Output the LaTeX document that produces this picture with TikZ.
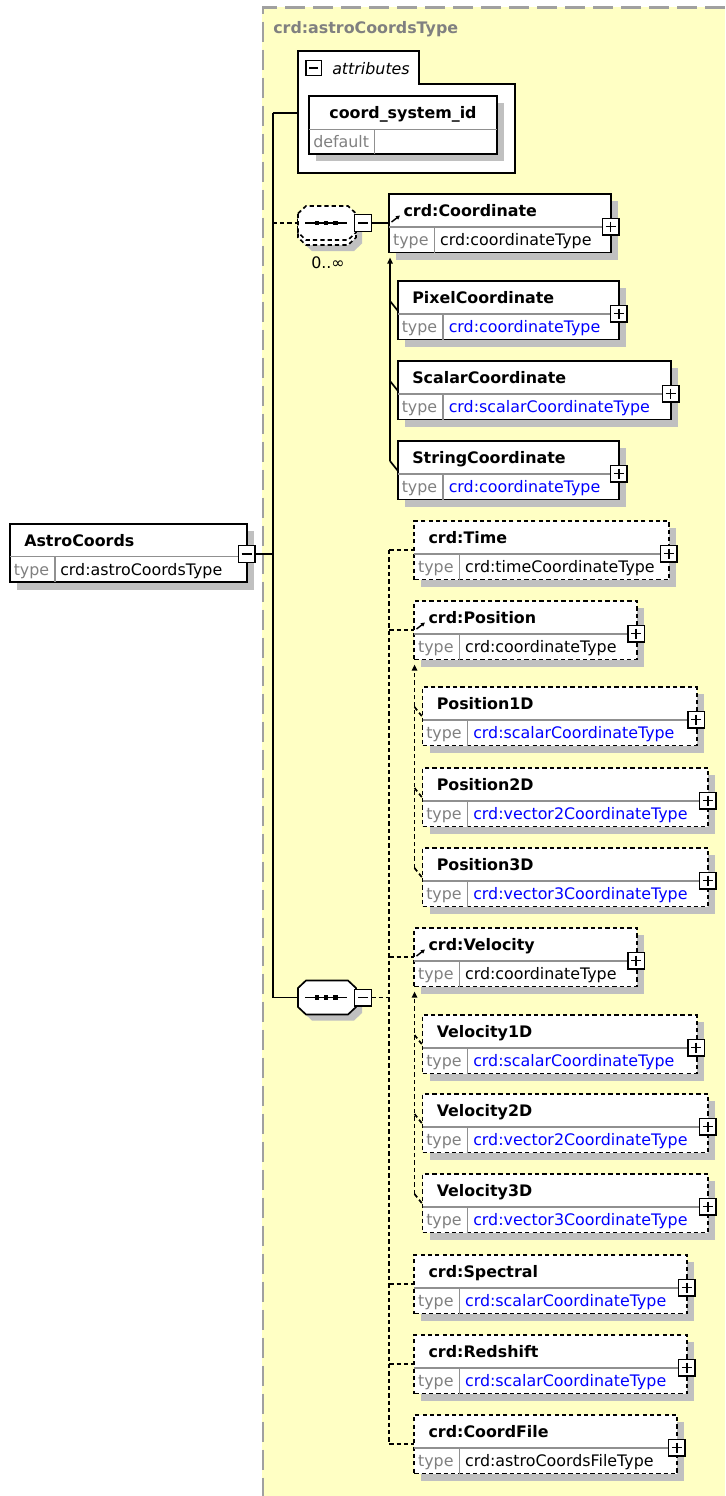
\documentclass[tikz,border=0pt]{standalone}
\usepackage{fontspec}
\setmainfont{DejaVu Sans}
\usetikzlibrary{arrows.meta}
\definecolor{bgyellow}{HTML}{FFFFC4}
\definecolor{shadowc}{HTML}{C0C0C0}
\definecolor{typegray}{HTML}{808080}
\definecolor{divgray}{HTML}{909090}
\definecolor{linkblue}{HTML}{0000FF}
\definecolor{framegray}{HTML}{A0A0A0}
\newcommand\xmlfs{\fontsize{11.9}{14.3}\selectfont}
\tikzset{
  ebox/.style={draw=black, line width=1.35pt, fill=white, inner sep=0pt, outer sep=0pt, rectangle},
  xdash/.style={dash pattern=on 3.2pt off 2.3pt},
  divline/.style={draw=divgray, line width=0.9pt},
  tb/.style={font=\xmlfs\bfseries, anchor=base west, inner sep=0pt},
  tt/.style={font=\xmlfs, anchor=base west, inner sep=0pt},
  pmbox/.style={draw=black, fill=white, line width=1.1pt, minimum size=12.4pt, inner sep=0pt, outer sep=0pt},
  pmline/.style={line width=1.1pt},
  conn/.style={line width=1.25pt},
  cdash/.style={line width=1.25pt, dash pattern=on 3.2pt off 2.3pt},
  subarr/.style={-{Triangle[length=4.5pt,width=4pt]}, shorten >=3.8pt},
  refarr/.style={line width=1.1pt, -{Triangle[length=3pt,width=3pt]}},
  octa/.style 2 args={insert path={({#1-29},{#2-9.5}) -- ({#1-21},{#2-17}) -- ({#1+21},{#2-17}) -- ({#1+29},{#2-9.5}) -- ({#1+29},{#2+9.5}) -- ({#1+21},{#2+17}) -- ({#1-21},{#2+17}) -- ({#1-29},{#2+9.5}) -- cycle}}
}
% element box: name, left, top, right, border style, title, type, type colour
\newcommand\xelem[8]{%
  \fill[shadowc] ({#2+7},{#3+7}) rectangle ({#4+7},{#3+65.5});
  \node[ebox,#5,minimum width={(#4-#2)*0.75pt},minimum height=43.875pt,anchor=north west] (#1) at (#2,#3) {};
  \draw[divline] (#2,{#3+33}) -- (#4,{#3+33});
  \draw[divline] ({#2+45},{#3+33}) -- ({#2+45},{#3+58.5});
  \node[tb] (#1-t) at ({#2+14},{#3+22.5}) {#6};
  \node[tt,text=typegray] (#1-k) at ({#2+3.5},{#3+51.5}) {type};
  \node[tt,text=#8] (#1-v) at ({#2+50.5},{#3+51.5}) {#7};
  \node[pmbox] (#1-p) at ({#4-0.5},{#3+32.5}) {};
  \draw[pmline] ({#4-5.5},{#3+32.5}) -- ({#4+4.5},{#3+32.5}) ({#4-0.5},{#3+27.5}) -- ({#4-0.5},{#3+37.5});
  \coordinate (#1-c) at (#2,{#3+29});
  \coordinate (#1-s) at (#2,{#3+30});
  \coordinate (#1-q) at ({#2-8},{#3+20});
}
% sequence compositor: name, cx, cy
\newcommand\xseqsym[3]{%
  \draw[line width=1.2pt] ({#2-22},#3) -- ({#2+20},#3);
  \fill ({#2-12.3},{#3-2.2}) rectangle ({#2-7.9},{#3+2.2});
  \fill ({#2-3.2},{#3-2.2}) rectangle ({#2+1.2},{#3+2.2});
  \fill ({#2+6.1},{#3-2.2}) rectangle ({#2+10.5},{#3+2.2});
  \node[inner sep=0pt,outer sep=0pt,minimum width=43.5pt,minimum height=25.5pt] (#1) at (#2,#3) {};
  \node[pmbox] (#1-m) at ({#2+36},#3) {};
  \draw[pmline] ({#2+31},#3) -- ({#2+41},#3);
}
\begin{document}
\begin{tikzpicture}[x=0.75pt,y=-0.75pt]
\useasboundingbox (0,0) rectangle (725,1496);
\fill[white] (0,0) rectangle (725,1496);
% complex type area
\fill[bgyellow] (262,7) rectangle (725,1496);
\draw[framegray, line width=1.6pt, dash pattern=on 15pt off 6pt] (725,7.5) -- (263,7.5) -- (263,1496);
\node[tb,text=typegray] (ctitle) at (273,33.3) {crd:astroCoordsType};

% attributes
\draw[line width=1.35pt, fill=white] (298,51) -- (419,51) -- (419,84) -- (515,84) -- (515,173) -- (298,173) -- cycle;
\node[inner sep=0pt,outer sep=0pt,minimum width=162.75pt,minimum height=91.5pt,anchor=north west] (attrs) at (298,51) {};
\node[pmbox,minimum size=11.6pt] (attrs-m) at (313.5,68) {};
\draw[pmline] (309,68) -- (318,68);
\node[tt,font=\xmlfs\itshape] (attrs-t) at (332,74) {attributes};
\fill[shadowc] (316.3,102.7) rectangle (503.7,161.3);
\node[ebox,minimum width=140.55pt,minimum height=43.95pt,anchor=north west] (csid) at (309.3,95.7) {};
\draw[divline] (309.3,129.3) -- (496.7,129.3) (374.3,129.3) -- (374.3,154.3);
\node[tb,anchor=base] (csid-t) at (403,118.3) {coord\_system\_id};
\node[tt,text=typegray] (csid-k) at (313,147.6) {default};

% root element
\fill[shadowc] (17,531) rectangle (253.7,589.5);
\node[ebox,minimum width=177.5pt,minimum height=43.7pt,anchor=north west] (astro) at (10,524) {};
\draw[divline] (10,556.7) -- (246.7,556.7) (55,556.7) -- (55,582.3);
\node[tb] (astro-t) at (24,546) {AstroCoords};
\node[tt,text=typegray] (astro-k) at (13.5,575.5) {type};
\node[tt] (astro-v) at (60,575.5) {crd:astroCoordsType};
\node[pmbox] (astro-m) at (246.5,554) {};
\draw[pmline] (241.5,554) -- (251.5,554);

% sequence A (optional, repeating)
\fill[shadowc,shift={(6,11)}] [octa={327}{223}];
\filldraw[fill=white,cdash,shift={(0,5)}] [octa={327}{223}];
\filldraw[fill=white,cdash] [octa={327}{223}];
\xseqsym{seqA}{327}{223}
\node[tt,anchor=base] (seqA-l) at (328,268) {0..∞};

% sequence B
\fill[shadowc,shift={(6,6)}] [octa={327}{997.5}];
\filldraw[fill=white,line width=1.25pt] [octa={327}{997.5}];
\xseqsym{seqB}{327}{997.5}

% elements
\xelem{coord}{389.3}{194}{611}{solid}{crd:Coordinate}{crd:coordinateType}{black}
\xelem{pixel}{398}{281}{619.3}{solid}{PixelCoordinate}{crd:coordinateType}{linkblue}
\xelem{scalar}{398}{361}{671}{solid}{ScalarCoordinate}{crd:scalarCoordinateType}{linkblue}
\xelem{string}{398}{441}{619.3}{solid}{StringCoordinate}{crd:coordinateType}{linkblue}
\xelem{time}{414.3}{521}{669.3}{xdash}{crd:Time}{crd:timeCoordinateType}{black}
\xelem{position}{414.3}{601}{636.7}{xdash}{crd:Position}{crd:coordinateType}{black}
\xelem{p1d}{422.5}{687}{696.7}{xdash}{Position1D}{crd:scalarCoordinateType}{linkblue}
\xelem{p2d}{422.5}{768}{708.3}{xdash}{Position2D}{crd:vector2CoordinateType}{linkblue}
\xelem{p3d}{422.5}{848}{708.3}{xdash}{Position3D}{crd:vector3CoordinateType}{linkblue}
\xelem{velocity}{414.3}{928}{636.7}{xdash}{crd:Velocity}{crd:coordinateType}{black}
\xelem{v1d}{422.5}{1015}{696.7}{xdash}{Velocity1D}{crd:scalarCoordinateType}{linkblue}
\xelem{v2d}{422.5}{1094}{708.3}{xdash}{Velocity2D}{crd:vector2CoordinateType}{linkblue}
\xelem{v3d}{422.5}{1174}{708.3}{xdash}{Velocity3D}{crd:vector3CoordinateType}{linkblue}
\xelem{spectral}{414.3}{1255}{687.3}{xdash}{crd:Spectral}{crd:scalarCoordinateType}{linkblue}
\xelem{redshift}{414.3}{1335}{687.3}{xdash}{crd:Redshift}{crd:scalarCoordinateType}{linkblue}
\xelem{cfile}{414.3}{1415}{677.3}{xdash}{crd:CoordFile}{crd:astroCoordsFileType}{black}

% reference icons
\draw[refarr] (391.5,222) -- (400,215.5);
\draw[refarr] (416.5,629) -- (425,622.5);
\draw[refarr] (416.5,956) -- (425,949.5);

% connectors
\coordinate (tTop) at (272.7,112.7);
\coordinate (tBot) at (272.7,997.5);
\coordinate (busT) at (389.3,550);
\coordinate (busB) at (389.3,1444);
\draw[conn] (tTop) -- (tBot);
\draw[conn] (tTop) -- (tTop -| attrs.west);
\draw[conn] (astro-m.east) -- (astro-m.east -| tTop);
\draw[cdash] (tTop |- seqA) -- (seqA.west);
\draw[conn] (tBot) -- (seqB.west);
\draw[conn] (seqA-m.east) -- (coord-c);
\draw[cdash] (seqB-m.east) -- (seqB-m.east -| busT);
\draw[cdash] (busT) -- (busB);
\foreach \n in {time,position,velocity,spectral,redshift,cfile}
  \draw[cdash] (busT |- \n-c) -- (\n-c);

% substitution groups
\draw[conn,subarr] (string-q) -- (string-q |- coord.south);
\foreach \n in {pixel,scalar,string} \draw[conn] (\n-q) -- (\n-s);
\draw[cdash,subarr] (p3d-q) -- (p3d-q |- position.south);
\foreach \n in {p1d,p2d,p3d} \draw[cdash] (\n-q) -- (\n-s);
\draw[cdash,subarr] (v3d-q) -- (v3d-q |- velocity.south);
\foreach \n in {v1d,v2d,v3d} \draw[cdash] (\n-q) -- (\n-s);
\end{tikzpicture}
\end{document}
